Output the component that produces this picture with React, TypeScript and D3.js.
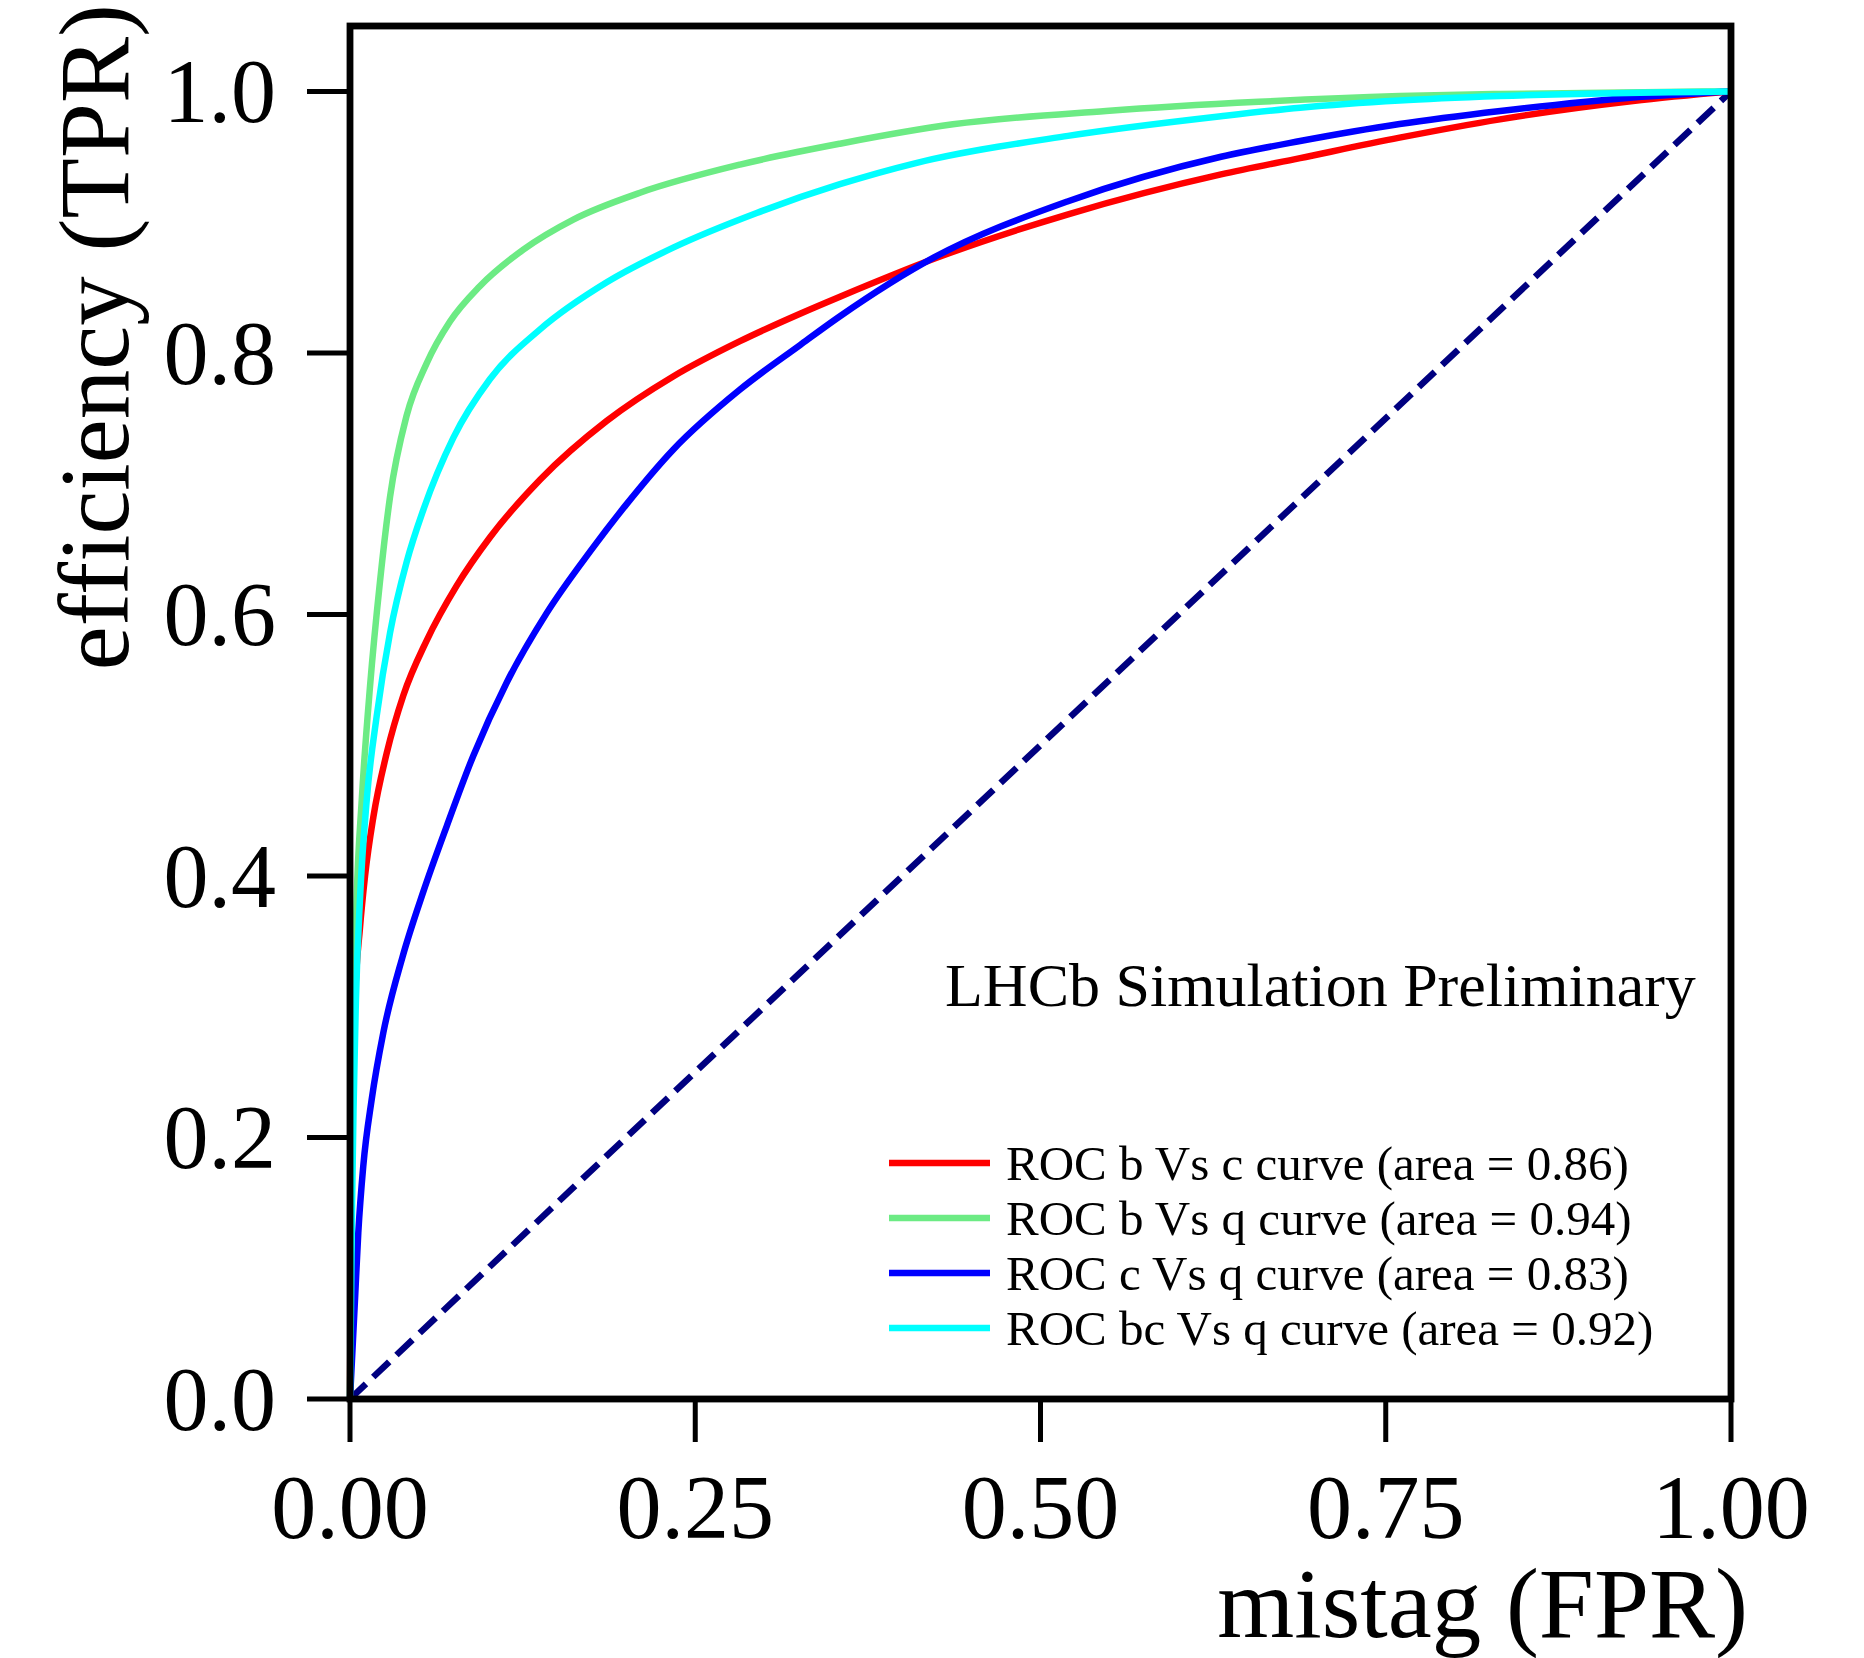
import React from "react";
import * as d3 from "d3";

// ROC curves: [mistag (FPR), efficiency (TPR)]
const rocBvsC: [number, number][] = [
  [0, 0], [0.001, 0.2], [0.0036, 0.305], [0.0072, 0.36], [0.0109, 0.4], [0.0169, 0.445],
  [0.0266, 0.494], [0.0386, 0.538], [0.0555, 0.58], [0.0773, 0.622], [0.1014, 0.659],
  [0.1376, 0.703], [0.1859, 0.748], [0.234, 0.782], [0.2824, 0.809], [0.3259, 0.83],
  [0.3548, 0.843], [0.4229, 0.872], [0.52, 0.906], [0.6307, 0.9365], [0.688, 0.949],
  [0.76, 0.9646], [0.8327, 0.9786], [0.929, 0.9926], [1, 1],
];
const rocBvsQ: [number, number][] = [
  [0, 0], [0.001, 0.15], [0.003, 0.305], [0.0048, 0.382], [0.0085, 0.458], [0.0145, 0.545],
  [0.0217, 0.625], [0.029, 0.69], [0.041, 0.752], [0.0555, 0.792], [0.0724, 0.824],
  [0.094, 0.851], [0.1255, 0.879], [0.1617, 0.902], [0.21, 0.9225], [0.2824, 0.944],
  [0.3548, 0.96], [0.4366, 0.9748], [0.5475, 0.985], [0.658, 0.992], [0.76, 0.9964],
  [0.833, 0.998], [1, 1],
];
const rocCvsQ: [number, number][] = [
  [0, 0], [0.0036, 0.0757], [0.006, 0.127], [0.0096, 0.178], [0.0157, 0.229], [0.0241, 0.28],
  [0.038, 0.338], [0.0531, 0.388], [0.07, 0.438], [0.0893, 0.492], [0.1135, 0.548],
  [0.1424, 0.601], [0.1738, 0.648], [0.2, 0.684], [0.234, 0.726], [0.2824, 0.772],
  [0.3259, 0.806], [0.3548, 0.828], [0.4229, 0.873], [0.52, 0.916], [0.6307, 0.95],
  [0.688, 0.962], [0.76, 0.975], [0.833, 0.985], [0.929, 0.9954], [1, 1],
];
const rocBCvsQ: [number, number][] = [
  [0, 0], [0.0015, 0.15], [0.0043, 0.305], [0.0072, 0.382], [0.0121, 0.458], [0.0193, 0.522],
  [0.029, 0.586], [0.041, 0.64], [0.0531, 0.68], [0.0748, 0.735], [0.1014, 0.78],
  [0.1376, 0.818], [0.1859, 0.854], [0.234, 0.8805], [0.2945, 0.907], [0.3548, 0.929],
  [0.409, 0.945], [0.5199, 0.966], [0.6307, 0.981], [0.688, 0.9875], [0.76, 0.993],
  [0.833, 0.9964], [1, 1],
];
const chance: [number, number][] = [[0, 0], [1, 1]];

const seriesNames = [
  "ROC b Vs c curve (area = 0.86)",
  "ROC b Vs q curve (area = 0.94)",
  "ROC c Vs q curve (area = 0.83)",
  "ROC bc Vs q curve (area = 0.92)",
];
const seriesColors = ["#ff0000", "#6ceb84", "#0000ff", "#00ffff"];
const seriesData = [rocBvsC, rocBvsQ, rocCvsQ, rocBCvsQ];

const xTicks = [0, 0.25, 0.5, 0.75, 1.0];
const yTicks = [0, 0.2, 0.4, 0.6, 0.8, 1.0];

const FONT = '"Liberation Serif", "Times New Roman", serif';

export default function App() {
  const W = 1864, H = 1658;
  const left = 350, right = 1731, top = 26, bottom = 1399;
  const x = d3.scaleLinear().domain([0, 1]).range([left, right]);
  const y = d3.scaleLinear().domain([0, 1.05]).range([bottom, top]);
  const line = d3.line<[number, number]>().x(d => x(d[0])).y(d => y(d[1])).curve(d3.curveMonotoneX);
  const straight = d3.line<[number, number]>().x(d => x(d[0])).y(d => y(d[1]));
  const tickLen = 43;

  const legendX0 = 889, legendX1 = 990, legendY0 = 1163, legendDy = 55;

  return (
    <svg width={W} height={H} style={{ position: "absolute", left: 0, top: 0, background: "#fff" }}>
      <rect x={0} y={0} width={W} height={H} fill="#fff" />
      {/* chance diagonal */}
      <path d={straight(chance) || ""} fill="none" stroke="#000080" strokeWidth={6.5} strokeDasharray="22 10" />
      {seriesData.map((s, i) => (
        <path key={i} d={line(s) || ""} fill="none" stroke={seriesColors[i]} strokeWidth={6.5} strokeLinejoin="round" />
      ))}
      {/* frame */}
      <rect x={left} y={top} width={right - left} height={bottom - top} fill="none" stroke="#000" strokeWidth={6.8} />
      {/* y ticks */}
      {yTicks.map(t => (
        <g key={"y" + t}>
          <line x1={left - tickLen} x2={left} y1={y(t)} y2={y(t)} stroke="#000" strokeWidth={5} />
          <text x={276} y={y(t)} dy={31} textAnchor="end" fontFamily={FONT} fontSize={90} fill="#000">
            {t.toFixed(1)}
          </text>
        </g>
      ))}
      {/* x ticks */}
      {xTicks.map(t => (
        <g key={"x" + t}>
          <line x1={x(t)} x2={x(t)} y1={bottom} y2={bottom + tickLen} stroke="#000" strokeWidth={5} />
          <text x={x(t)} y={1538} textAnchor="middle" fontFamily={FONT} fontSize={90} fill="#000">
            {t.toFixed(2)}
          </text>
        </g>
      ))}
      {/* axis labels */}
      <text x={1748} y={1637} textAnchor="end" fontFamily={FONT} fontSize={99} fill="#000">mistag (FPR)</text>
      <text transform="translate(128,4) rotate(-90)" textAnchor="end" fontFamily={FONT} fontSize={99} fill="#000">
        efficiency (TPR)
      </text>
      {/* annotation */}
      <text x={945} y={1006} fontFamily={FONT} fontSize={62} fill="#000">LHCb Simulation Preliminary</text>
      {/* legend */}
      {seriesNames.map((n, i) => (
        <g key={"l" + i}>
          <line x1={legendX0} x2={legendX1} y1={legendY0 + i * legendDy} y2={legendY0 + i * legendDy}
            stroke={seriesColors[i]} strokeWidth={6.5} />
          <text x={1006} y={legendY0 + i * legendDy} dy={17} fontFamily={FONT} fontSize={49} fill="#000">{n}</text>
        </g>
      ))}
    </svg>
  );
}
